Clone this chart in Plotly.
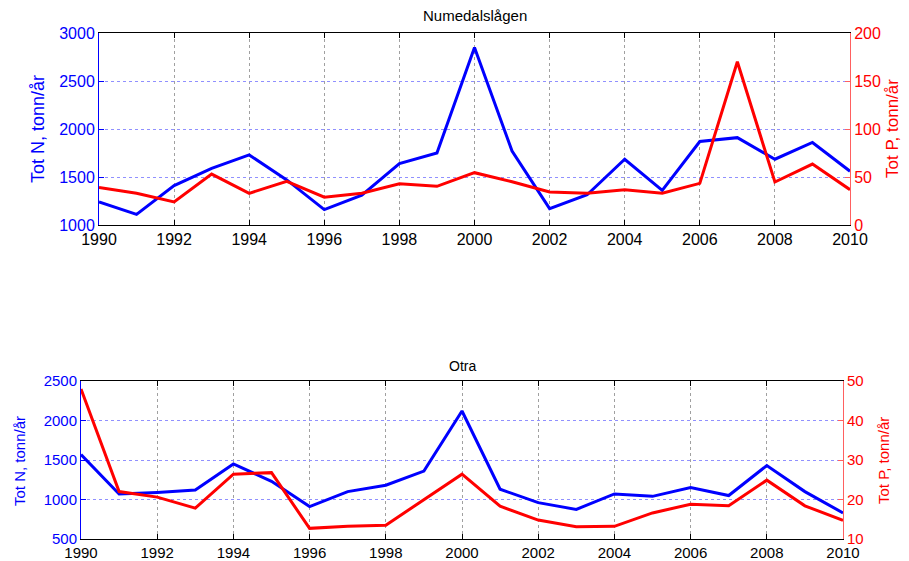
import plotly.graph_objects as go

years = list(range(1990, 2011))

# Numedalslågen
num_N = [1240, 1110, 1410, 1590, 1730, 1470, 1160, 1310, 1640, 1750, 2850,
         1770, 1170, 1315, 1685, 1360, 1870, 1910, 1685, 1860, 1560]
num_P = [39, 33, 24, 53, 33, 45.5, 29, 33, 43, 40.3, 54.5,
         45, 34.4, 33, 36.8, 33, 43.4, 170, 44.8, 63.5, 36.8]

# Otra
otra_N = [1570, 1070, 1090, 1120, 1450, 1230, 910, 1100, 1180, 1360, 2120,
          1130, 960, 875, 1070, 1040, 1150, 1050, 1430, 1100, 830]
otra_P = [48, 22, 20.6, 17.8, 26.4, 26.8, 12.7, 13.2, 13.5, 19.9, 26.4,
          18.3, 14.8, 13.1, 13.2, 16.6, 18.8, 18.4, 24.9, 18.4, 14.7]

x_ticks = list(range(1990, 2011, 2))

# page body has an 8px margin; figure is sized to fill the rest of the window
OFF = 8
W, H = 909 - OFF, 561 - OFF
FONT = "Liberation Sans, Arial, sans-serif"
BLUE = "#0000ff"
RED = "#ff0000"


def px_x(px):
    return (px - OFF) / W


def px_y(py):
    return (H - (py - OFF)) / H


fig = go.Figure()
fig.add_trace(go.Scatter(x=years, y=num_N, mode="lines", line=dict(color=BLUE, width=3),
                         xaxis="x", yaxis="y", showlegend=False))
fig.add_trace(go.Scatter(x=years, y=num_P, mode="lines", line=dict(color=RED, width=3),
                         xaxis="x", yaxis="y2", showlegend=False))
fig.add_trace(go.Scatter(x=years, y=otra_N, mode="lines", line=dict(color=BLUE, width=3),
                         xaxis="x2", yaxis="y3", showlegend=False))
fig.add_trace(go.Scatter(x=years, y=otra_P, mode="lines", line=dict(color=RED, width=3),
                         xaxis="x2", yaxis="y4", showlegend=False))

top_dom_x = [px_x(99), px_x(850)]
top_dom_y = [px_y(225), px_y(33)]
bot_dom_x = [px_x(81), px_x(843)]
bot_dom_y = [px_y(539), px_y(381)]


def xax(domain, anchor, size):
    return dict(domain=domain, anchor=anchor, range=[1990, 2010], tickvals=x_ticks,
                automargin=False,
                showgrid=True, gridcolor="#a0a0a0", griddash="dot", gridwidth=1,
                showline=True, linecolor="black", linewidth=1, mirror="ticks",
                ticks="inside", ticklen=5, tickcolor="black",
                tickfont=dict(family=FONT, size=size, color="black"), zeroline=False)


def yax_left(domain, anchor, rng, dtick, size):
    return dict(domain=domain, anchor=anchor, range=rng, dtick=dtick,
                automargin=False,
                showgrid=True, gridcolor="#9090ff", griddash="dot", gridwidth=1,
                showline=True, linecolor=BLUE, linewidth=1,
                ticks="inside", ticklen=5, tickcolor=BLUE,
                tickfont=dict(family=FONT, size=size, color=BLUE), zeroline=False)


def yax_right(overlay, anchor, rng, dtick, size):
    return dict(overlaying=overlay, anchor=anchor, side="right", range=rng, dtick=dtick,
                automargin=False,
                showgrid=False, showline=True, linecolor="#ff6060", linewidth=1,
                ticks="inside", ticklen=5, tickcolor="#ff6060",
                tickfont=dict(family=FONT, size=size, color=RED), zeroline=False)


def label(text, x, y, size, color, angle=0):
    return dict(text=text, x=x, y=y, xref="paper", yref="paper", showarrow=False,
                xanchor="center", yanchor="middle", textangle=angle, borderpad=0,
                font=dict(family=FONT, size=size, color=color))


fig.update_layout(
    width=W, height=H,
    margin=dict(l=0, r=0, t=0, b=0, pad=0),
    paper_bgcolor="white", plot_bgcolor="white",
    xaxis=xax(top_dom_x, "y", 16),
    yaxis=yax_left(top_dom_y, "x", [1000, 3000], 500, 16),
    yaxis2=yax_right("y", "x", [0, 200], 50, 16),
    xaxis2=xax(bot_dom_x, "y3", 15),
    yaxis3=yax_left(bot_dom_y, "x2", [500, 2500], 500, 15),
    yaxis4=yax_right("y3", "x2", [10, 50], 10, 15),
    annotations=[
        label("Numedalslågen", px_x(475), px_y(16), 15, "black"),
        label("Otra", px_x(462), px_y(366), 14, "black"),
        label("Tot N, tonn/år", px_x(38), px_y(129), 18, BLUE, -90),
        label("Tot P, tonn/år", px_x(892), px_y(129), 17, RED, -90),
        label("Tot N, tonn/år", px_x(19), px_y(461), 15, BLUE, -90),
        label("Tot P, tonn/år", px_x(883), px_y(461), 15, RED, -90),
    ],
)

fig.write_html("out.html")
